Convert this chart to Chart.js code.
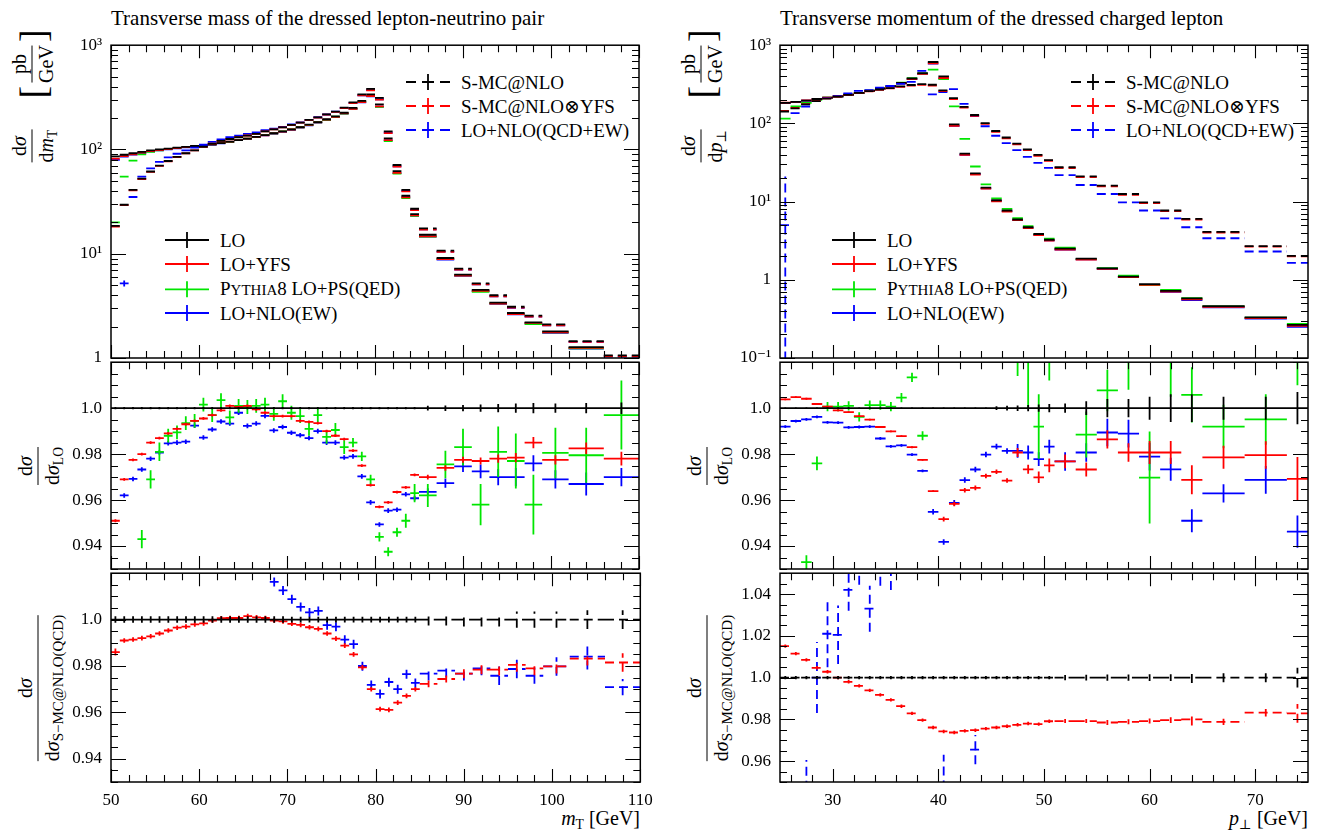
<!DOCTYPE html>
<html><head><meta charset="utf-8">
<script src="https://cdn.jsdelivr.net/npm/chart.js@4.4.1/dist/chart.umd.min.js"></script>
<style>
html,body{margin:0;padding:0;background:#fff;}
body{width:1320px;height:833px;position:relative;overflow:hidden;font-family:'Liberation Serif','DejaVu Serif',serif;color:#000;}
canvas{position:absolute;}
.title{position:absolute;font-size:21px;white-space:nowrap;line-height:1;}
.leg{position:absolute;display:flex;align-items:center;font-size:19px;white-space:nowrap;line-height:1;transform:translateY(-50%);}
.leg svg{margin-right:11px;display:block;}
.ylab{position:absolute;transform:translate(-50%,-50%) rotate(-90deg);display:flex;align-items:center;white-space:nowrap;font-size:20px;line-height:1;}
.frac{display:inline-flex;flex-direction:column;align-items:center;}
.frac .bar{align-self:stretch;border-top:1.2px solid #000;margin:3px 0 3px 0;}
.br{font-size:38px;margin:0 3px;}
.xlab{position:absolute;font-size:20px;white-space:nowrap;line-height:1;}
.sc{font-variant:small-caps;font-size:1.12em;}
sub{font-size:68%;vertical-align:-0.3em;line-height:0;}
.small{font-size:15px;}
</style></head><body>

<div class="title" style="left:111px;top:8px">Transverse mass of the dressed lepton-neutrino pair</div>
<div class="title" style="left:780px;top:8px">Transverse momentum of the dressed charged lepton</div>

<div class="ylab" style="left:32px;top:64px"><span class="br">[</span><span class="frac"><span>pb</span><span class="bar"></span><span>GeV</span></span><span class="br">]</span></div>
<div class="ylab" style="left:32px;top:146px"><span class="frac"><span>d<i>σ</i></span><span class="bar"></span><span>d<i>m</i><sub>T</sub></span></span></div>
<div class="ylab" style="left:38px;top:466px"><span class="frac"><span>d<i>σ</i></span><span class="bar"></span><span>d<i>σ</i><sub>LO</sub></span></span></div>
<div class="ylab" style="left:38px;top:688px"><span class="frac"><span>d<i>σ</i></span><span class="bar"></span><span>d<i>σ</i><sub class="small">S−MC@NLO(QCD)</sub></span></span></div>

<div class="ylab" style="left:701px;top:64px"><span class="br">[</span><span class="frac"><span>pb</span><span class="bar"></span><span>GeV</span></span><span class="br">]</span></div>
<div class="ylab" style="left:701px;top:146px"><span class="frac"><span>d<i>σ</i></span><span class="bar"></span><span>d<i>p</i><sub>⊥</sub></span></span></div>
<div class="ylab" style="left:707px;top:466px"><span class="frac"><span>d<i>σ</i></span><span class="bar"></span><span>d<i>σ</i><sub>LO</sub></span></span></div>
<div class="ylab" style="left:707px;top:688px"><span class="frac"><span>d<i>σ</i></span><span class="bar"></span><span>d<i>σ</i><sub class="small">S−MC@NLO(QCD)</sub></span></span></div>

<div class="xlab" style="right:680px;top:808px"><i>m</i><sub>T</sub> [GeV]</div>
<div class="xlab" style="right:12px;top:808px"><i>p</i><sub>⊥</sub> [GeV]</div>

<div id="legends"></div>

<script>
// ===================== DATA: transverse mass m_T (left column) =====================
const mtEdges = [50,51,52,53,54,55,56,57,58,59,60,61,62,63,64,65,66,67,68,69,70,71,72,73,74,75,76,77,78,79,80,81,82,83,84,85,87,89,91,93,95,97,99,102,106,110];
const mtXTicks = [50,60,70,80,90,100,110];
const mtYTicks = [1,10,100,1000];
const mtYLabels = ['1','10¹','10²','10³'];

// top panel: dsigma/dmT [pb/GeV]
const mtLO       = [86,89,92,95,98,100,102,104,106,108, 110,112,115,119,123,127,132,137,143,149, 156,164,173,183,195,208,225,250,292,337, 271,128,62,36,24, 15.2,9.1,6.3,4.5,3.4,2.7,2.2,1.8,1.27,0.93];
const mtLOYFS    = [81.8,86.2,89.9,93.1,96.5,98.7,100.9,103.1,105.3,107.4, 109.5,111.7,114.9,119.1,123.1,127.1,131.9,136.7,142.5,148.5, 155.5,163.1,172,181.8,193.1,205.5,222,245.4,284.7,325.7, 259.3,122.8,59.7,34.8,23.3, 14.7,8.86,6.16,4.40,3.33,2.64,2.17,1.76,1.25,0.91];
const mtPY8      = [20,55,78,89.6,95,98.1,100.8,102.9,105.3,107.4, 110.2,111.7,115.4,118.5,123.1,127.1,132.1,137.2,142.6,149.4, 155.7,163.4,171.4,182.5,192.6,206,221.2,246.3,285.9,326.6, 255.8,120,58.7,34.2,23.1, 14.6,8.88,6.19,4.31,3.34,2.64,2.11,1.76,1.24,0.93];
const mtLONLOEW  = [79.6,85.6,89.2,92.5,95.8,98.1,100.4,102.4,104.5,107.2, 108.6,111,114.3,118.2,122.8,126,131.1,136.5,141.6,147.8, 154.3,162.1,170.8,181.2,192.1,204.9,220.2,244.8,283.3,323.2, 257.3,122.3,59.3,34.7,23.1, 14.6,8.8,6.14,4.38,3.30,2.62,2.15,1.74,1.23,0.90];
const mtSMC      = [18.5,29.5,41,52.5,61.5,70,77.5,85,92,98, 106,114,121,126,131,136,141,149,156,163, 172,181,192,203,217,231,252,283,337,381, 313,149,71,41,27, 17.5,10.7,7.2,5.2,4.0,3.1,2.55,2.1,1.45,1.06];
const mtSMCYFS   = [18.2,29.2,40.6,52.1,61.1,69.6,77.1,84.7,91.7,97.8, 105.8,114,121.1,126.1,131.1,136.2,141.1,149.1,155.9,162.9, 171.7,180.6,191.4,202.2,215.7,229.1,249.2,278.8,330,369.6, 300.9,143.2,68.5,39.7,26.2, 17.0,10.4,7.03,5.09,3.91,3.04,2.50,2.06,1.43,1.04];
const mtNLOQCDEW = [0.5,5.2,35,55,66,76,84,91,98,104, 111,118,125,131,136,141,146,153,158.5,165, 173.5,182,192.6,203.8,216.5,230.3,249.8,280,330.3,370.3, 303,145,68.9,40,26.3, 17.1,10.46,7.03,5.09,3.90,3.03,2.49,2.06,1.43,1.03];
const mtTopErrQCDEW = [0,0.35,0,0,0, 0,0,0,0,0, 0,0,0,0,0, 0,0,0,0,0, 0,0,0,0,0, 0,0,0,0,0, 0,0,0,0,0, 0,0,0,0,0, 0,0,0,0,0];

// middle panel: ratio to LO
const mtRatioRef = [1,1,1,1,1, 1,1,1,1,1, 1,1,1,1,1, 1,1,1,1,1, 1,1,1,1,1, 1,1,1,1,1, 1,1,1,1,1, 1,1,1,1,1, 1,1,1,1,1];
const mtErrLO    = [0.0005,0.0005,0.0005,0.0005,0.0005, 0.0005,0.0005,0.0005,0.0005,0.0005, 0.0005,0.0005,0.0005,0.0005,0.0005, 0.0005,0.0005,0.0005,0.0005,0.0005, 0.0005,0.0005,0.0005,0.0005,0.0005, 0.0005,0.0005,0.0005,0.0005,0.0005, 0.0005,0.0005,0.0005,0.0005,0.0005, 0.001,0.0012,0.0014,0.0016,0.0018,0.002,0.0022,0.002,0.0022,0.0025];
const mtRatioYFS = [0.951,0.969,0.9775,0.980,0.985, 0.987,0.989,0.991,0.993,0.9945, 0.9955,0.997,0.999,1.001,1.0005, 1.001,0.9995,0.998,0.9965,0.9965, 0.9965,0.9945,0.994,0.9935,0.990, 0.988,0.9865,0.9815,0.975,0.9665, 0.957,0.959,0.9635,0.9655,0.971, 0.970,0.974,0.9775,0.977,0.978,0.9785,0.985,0.9775,0.9825,0.978];
const mtErrYFS   = [0.0006,0.0006,0.0006,0.0006,0.0006, 0.0006,0.0006,0.0006,0.0006,0.0006, 0.0006,0.0006,0.0006,0.0006,0.0006, 0.0006,0.0006,0.0006,0.0006,0.0006, 0.0006,0.0006,0.0006,0.0006,0.0006, 0.0006,0.0006,0.0006,0.0006,0.0006, 0.0006,0.0006,0.0006,0.0006,0.0006, 0.001,0.0012,0.0013,0.0015,0.0018,0.002,0.0025,0.002,0.0025,0.003];
const mtRatioPY8 = [0.233,0.618,0.848,0.943,0.969, 0.981,0.988,0.9895,0.9935,0.9945, 1.0015,0.997,1.0035,0.996,1.001, 1.0005,1.001,1.0015,0.9975,1.003, 0.998,0.9965,0.991,0.997,0.9875, 0.9905,0.983,0.985,0.979,0.969, 0.944,0.9375,0.946,0.951,0.963, 0.962,0.9755,0.983,0.958,0.981,0.977,0.958,0.9805,0.9795,0.997];
const mtErrPY8   = [0.01,0.006,0.005,0.004,0.004, 0.004,0.003,0.003,0.003,0.003, 0.003,0.003,0.003,0.003,0.003, 0.003,0.003,0.003,0.003,0.003, 0.003,0.003,0.003,0.003,0.003, 0.003,0.003,0.002,0.002,0.002, 0.002,0.002,0.002,0.003,0.004, 0.005,0.006,0.008,0.009,0.011,0.012,0.013,0.011,0.012,0.015];
const mtRatioEW  = [0.925,0.962,0.9692,0.9733,0.978, 0.9807,0.9847,0.985,0.9854,0.9924, 0.9872,0.9907,0.9942,0.9933,0.998, 0.9923,0.9933,0.9966,0.9903,0.9918, 0.9893,0.9882,0.987,0.990,0.985, 0.985,0.9785,0.979,0.9703,0.959, 0.9494,0.9554,0.9558,0.9625,0.9608, 0.9636,0.9674,0.9747,0.9725,0.970,0.970,0.976,0.969,0.967,0.970];
const mtErrEW    = [0.001,0.001,0.001,0.001,0.001, 0.001,0.001,0.001,0.001,0.001, 0.001,0.001,0.001,0.001,0.001, 0.001,0.001,0.001,0.001,0.001, 0.001,0.001,0.001,0.001,0.001, 0.001,0.001,0.001,0.001,0.001, 0.001,0.001,0.001,0.001,0.001, 0.0015,0.002,0.0025,0.003,0.0035,0.004,0.0035,0.004,0.005,0.004];

// bottom panel: ratio to S-MC@NLO(QCD)
const mtRatio2Ref  = [1,1,1,1,1, 1,1,1,1,1, 1,1,1,1,1, 1,1,1,1,1, 1,1,1,1,1, 1,1,1,1,1, 1,1,1,1,1, 1,1,1,1,1, 1,1,1,1,1];
const mtErr2SMC    = [0.0014,0.0014,0.0014,0.0014,0.0014, 0.0014,0.0014,0.0014,0.0014,0.0014, 0.0014,0.0014,0.0014,0.0014,0.0014, 0.0014,0.0014,0.0014,0.0014,0.0014, 0.0012,0.0012,0.0012,0.0012,0.0012, 0.0012,0.0012,0.0012,0.0012,0.0012, 0.0012,0.0012,0.0012,0.0012,0.0012, 0.0025,0.0025,0.003,0.003,0.003,0.0035,0.0035,0.0035,0.004,0.004];
const mtRatio2YFS  = [0.986,0.991,0.9914,0.992,0.9928, 0.994,0.9953,0.9965,0.997,0.9979, 0.9984,0.9996,1.0006,1.0007,1.0007, 1.0015,1.001,1.0007,0.9996,0.9992, 0.9982,0.9977,0.9967,0.996,0.994, 0.9918,0.9888,0.985,0.9794,0.970, 0.9614,0.9611,0.9642,0.9671,0.970, 0.9723,0.9744,0.9767,0.9784,0.9784,0.9805,0.979,0.9798,0.9832,0.9815];
const mtErr2YFS    = [0.0015,0.001,0.001,0.001,0.001, 0.001,0.001,0.001,0.001,0.001, 0.001,0.001,0.001,0.001,0.001, 0.001,0.001,0.001,0.001,0.001, 0.001,0.001,0.001,0.001,0.001, 0.001,0.001,0.001,0.001,0.001, 0.001,0.001,0.001,0.001,0.001, 0.0015,0.0015,0.002,0.002,0.0025,0.003,0.003,0.003,0.003,0.004];
const mtRatio2QCDEW= [null,0.176,0.854,1.048,1.073, 1.086,1.084,1.07,1.065,1.061, 1.047,1.035,1.033,1.04,1.038, 1.037,1.035,1.027,1.0163,1.0126, 1.0088,1.0055,1.0031,1.0038,0.9976, 0.997,0.9914,0.9894,0.980,0.9719, 0.968,0.9731,0.970,0.9765,0.9727, 0.9767,0.978,0.9767,0.979,0.9758,0.9787,0.9758,0.9798,0.984,0.9709];
const mtErr2QCDEW  = [0,0.05,0.01,0.005,0.005, 0.003,0.003,0.003,0.003,0.003, 0.003,0.003,0.003,0.003,0.003, 0.003,0.003,0.003,0.002,0.002, 0.002,0.002,0.002,0.002,0.002, 0.002,0.002,0.002,0.002,0.002, 0.002,0.002,0.002,0.002,0.002, 0.003,0.003,0.003,0.003,0.004,0.004,0.0035,0.004,0.0055,0.0035];

// ===================== DATA: lepton transverse momentum p_perp (right column) =====================
const ptEdges = [25,26,27,28,29,30,31,32,33,34,35,36,37,38,39,40,41,42,43,44,45,46,47,48,49,50,51,53,55,57,59,61,63,65,69,73,75];
const ptXTicks = [30,40,50,60,70];
const ptYTicks = [0.1,1,10,100,1000];
const ptYLabels = ['10⁻¹','1','10¹','10²','10³'];

const ptLO       = [183,188,196,205,213,222,233,246,262,280, 300,330,375,440,610,400,97,41,23,15.1, 10.4,7.7,5.9,4.7,3.85,3.25, 2.5,1.86,1.40,1.10,0.88,0.72,0.58,0.46,0.33,0.265];
const ptLOYFS    = [183.7,188.9,196.8,205.4,213.1,221.8,232.6,245.1,260.7,277.7, 297,326,368.6,430.1,588,380.7,93,39.5,22.2,14.65, 10.11,7.46,5.79,4.57,3.73,3.17, 2.44,1.81,1.38,1.08,0.863,0.706,0.562,0.45,0.323,0.257];
const ptPY8      = [115,165,183,200,213.1,222.2,233.2,245.1,262.3,280.4, 300.2,331.5,380,434.7,488,368,165,63.5,28.1,16.6, 11.0,8.09,6.14,4.84,3.82,3.35, 2.58,1.84,1.41,1.13,0.853,0.742,0.583,0.456,0.328,0.273];
const ptLONLOEW  = [181.5,187,195,204.2,211.7,220.6,231,244,259.9,276.3, 295,324.7,367.4,428,582.5,376.7,93,39.7,22.4,14.8, 10.23,7.56,5.79,4.61,3.76,3.20, 2.44,1.82,1.385,1.088,0.861,0.701,0.552,0.443,0.32,0.251];
const ptSMC      = [142,156,175,193,208,220,232,246,258,270, 283,298,310,318,312,265,210,163,128,101, 80,66,55,46.5,39.5,34, 27.5,21,16,12.5,9.8,7.7,6.0,4.1,2.7,2.02];
const ptSMCYFS   = [144.1,157.8,176.5,193.9,208.6,220,231.5,245,256.4,267.8, 280,293.9,304.7,311.5,304.5,258.2,204.5,158.8,124.8,98.5, 78.1,64.5,53.8,45.5,38.6,33.3, 26.9,20.6,15.7,12.2,9.6,7.54,5.88,4.01,2.65,1.99];
const ptNLOQCDEW = [5,135,164.5,193,212,225,242,261,267,286, 301,320,340,470,235,251,275,178,123.6,92, 69.5,56,45.4,37.4,31.3,27, 21.8,16.3,12.5,9.8,7.7,6.1,4.7,3.4,2.3,1.65];
const ptTopErrQCDEW = [16,0,0,0,0, 0,0,0,0,0, 0,0,0,0,0, 0,0,0,0,0, 0,0,0,0,0, 0, 0,0,0,0,0,0,0,0,0,0];

const ptRatioRef = [1,1,1,1,1, 1,1,1,1,1, 1,1,1,1,1, 1,1,1,1,1, 1,1,1,1,1, 1, 1,1,1,1,1,1,1,1,1,1];
const ptErrLO    = [0.0003,0.0003,0.0003,0.0003,0.0003, 0.0003,0.0003,0.0003,0.0003,0.0003, 0.0003,0.0003,0.0003,0.0003,0.0003, 0.0003,0.0003,0.0003,0.0003,0.0003, 0.0008,0.001,0.0012,0.0014,0.0016, 0.0018, 0.002,0.003,0.004,0.004,0.005,0.006,0.006,0.005,0.005,0.007];
const ptRatioYFS = [1.0038,1.0048,1.0041,1.0018,1.0007, 0.999,0.9983,0.9965,0.995,0.9918, 0.9899,0.9878,0.983,0.9775,0.9639, 0.9517,0.9583,0.9643,0.9653,0.9705, 0.9723,0.9685,0.9807,0.9734,0.9699, 0.9751, 0.9768,0.9733,0.9864,0.9807,0.9807,0.9807,0.9688,0.9786,0.9796,0.9692];
const ptErrYFS   = [0.0004,0.0004,0.0004,0.0004,0.0004, 0.0004,0.0004,0.0004,0.0004,0.0004, 0.0004,0.0004,0.0004,0.0004,0.0004, 0.001,0.001,0.001,0.001,0.001, 0.001,0.001,0.002,0.002,0.0025, 0.003, 0.003,0.003,0.004,0.004,0.005,0.005,0.0063,0.005,0.006,0.0095];
const ptRatioPY8 = [0.63,0.88,0.933,0.976,1.0007, 1.0007,1.001,0.9962,1.0013,1.0013, 1.0007,1.0046,1.0134,0.988,0.80, 0.92,1.70,1.55,1.22,1.10, 1.06,1.05,1.04,1.035,0.992, 1.03, 1.03,0.9885,1.0077,1.03,0.9698,1.03,1.0058,0.992,0.9951,1.03];
const ptErrPY8   = [0.01,0.005,0.003,0.003,0.002, 0.002,0.002,0.002,0.002,0.002, 0.002,0.002,0.002,0.002,0.002, 0.003,0.004,0.006,0.01,0.015, 0.02,0.02,0.026,0.035,0.014, 0.018, 0.01,0.01,0.009,0.022,0.02,0.025,0.012,0.0095,0.011,0.02];
const ptRatioEW  = [0.992,0.9944,0.9951,0.9962,0.9938, 0.9937,0.9916,0.9918,0.992,0.9868, 0.9834,0.9838,0.9798,0.9727,0.9549, 0.9418,0.9588,0.9687,0.9733,0.9798, 0.9833,0.9814,0.9814,0.9807,0.9778, 0.9833, 0.9768,0.9807,0.9894,0.9889,0.9789,0.9734,0.951,0.9629,0.9688,0.9463];
const ptErrEW    = [0.0006,0.0006,0.0006,0.0006,0.0006, 0.0006,0.0006,0.0006,0.0006,0.0006, 0.0006,0.0006,0.0006,0.0006,0.0012, 0.0012,0.0012,0.0012,0.0012,0.0012, 0.0012,0.0012,0.003,0.003,0.003, 0.003, 0.004,0.004,0.006,0.006,0.006,0.005,0.005,0.004,0.006,0.007];

const ptRatio2Ref  = [1,1,1,1,1, 1,1,1,1,1, 1,1,1,1,1, 1,1,1,1,1, 1,1,1,1,1, 1, 1,1,1,1,1,1,1,1,1,1];
const ptErr2SMC    = [0.0008,0.0008,0.0008,0.0008,0.0008, 0.0008,0.0008,0.0008,0.0008,0.0008, 0.0008,0.0008,0.0008,0.0008,0.0008, 0.0008,0.0008,0.0008,0.0008,0.0008, 0.0008,0.0008,0.0008,0.0008,0.0008, 0.0008, 0.0013,0.0014,0.0015,0.0015,0.0016,0.0016,0.0026,0.0022,0.0022,0.0047];
const ptRatio2YFS  = [1.0151,1.0115,1.0085,1.0047,1.0028, 1.0,0.998,0.996,0.9939,0.9917, 0.9893,0.9863,0.9829,0.9796,0.9761, 0.9742,0.9737,0.9745,0.9748,0.9756, 0.9761,0.9767,0.9774,0.978,0.9777, 0.9791, 0.9792,0.9792,0.9785,0.9788,0.9792,0.9796,0.98,0.9788,0.9832,0.9829];
const ptErr2YFS    = [0.0008,0.0008,0.0008,0.0008,0.0008, 0.0008,0.0008,0.0008,0.0008,0.0008, 0.0008,0.0008,0.0008,0.0008,0.0008, 0.0008,0.0008,0.0008,0.0008,0.0008, 0.0008,0.0008,0.0008,0.0008,0.0008, 0.0008, 0.001,0.001,0.0012,0.0012,0.0012,0.0014,0.003,0.0015,0.0018,0.0045];
const ptRatio2QCDEW= [null,0.865,0.94,1.0,1.021, 1.0205,1.042,1.06,1.033,1.058, 1.065,1.074,1.097,1.48,0.753, 0.948,1.31,1.09,0.9655,0.91, 0.87,0.85,0.825,0.804,0.79, 0.79, 0.79,0.78,0.78,0.78,0.785,0.79,0.78,0.83,0.85,0.82];
const ptErr2QCDEW  = [0,0.02,0.0205,0.017,0.016, 0.014,0.01,0.0155,0.011,0.014, 0.023,0.01,0.01,0.01,0.01, 0.015,0.01,0.01,0.007,0.005, 0.005,0.005,0.005,0.005,0.005, 0.005, 0.005,0.005,0.005,0.005,0.005,0.005,0.005,0.005,0.005,0.005];

const ratioTicksMain = [0.94,0.96,0.98,1.0];
const ratioLabelsMain = ['0.94','0.96','0.98','1.0'];
const ratioTicksPt2 = [0.96,0.98,1.0,1.02,1.04];
const ratioLabelsPt2 = ['0.96','0.98','1.0','1.02','1.04'];

// ===================== STYLE / RENDERING =====================
const K = '#000000', R = '#ff0000', G = '#00e600', B = '#0000ff';
const DASH = [9,5];
Chart.defaults.font.family = "'Liberation Serif', 'DejaVu Serif', serif";
Chart.defaults.color = '#000';

function histData(edges, vals) {
  const d = [];
  vals.forEach((v, i) => {
    if (v === null) return;
    d.push({x: edges[i], y: v}, {x: edges[i+1], y: v}, {x: edges[i+1], y: null});
  });
  return d;
}
function errData(edges, vals, errs, floor) {
  const d = [];
  vals.forEach((v, i) => {
    if (v === null || !errs || !errs[i]) return;
    const c = (edges[i] + edges[i+1]) / 2;
    d.push({x: c, y: Math.max(v - errs[i], floor)}, {x: c, y: v + errs[i]}, {x: c, y: null});
  });
  return d;
}
function datasets(edges, series, floor) {
  const out = [];
  series.forEach(s => {
    const base = {showLine: true, pointRadius: 0, pointHoverRadius: 0, borderColor: s.c, backgroundColor: s.c,
      borderWidth: 1.8, spanGaps: false, clip: 0, borderDash: s.dash ? DASH : [], borderCapStyle: 'butt'};
    out.push(Object.assign({}, base, {data: histData(edges, s.v)}));
    if (s.e) out.push(Object.assign({}, base, {data: errData(edges, s.v, s.e, floor)}));
  });
  return out;
}

const framePlugin = {
  id: 'frame',
  afterDatasetsDraw(chart, args, o) {
    const ctx = chart.ctx, a = chart.chartArea, sx = chart.scales.x, sy = chart.scales.y;
    ctx.save();
    ctx.strokeStyle = '#000';
    ctx.lineWidth = 1.1;
    ctx.setLineDash([]);
    ctx.beginPath();
    const xt = (v, len) => { const p = Math.round(sx.getPixelForValue(v)) + 0.5; ctx.moveTo(p, a.top); ctx.lineTo(p, a.top + len); ctx.moveTo(p, a.bottom); ctx.lineTo(p, a.bottom - len); };
    const yt = (v, len) => { const p = Math.round(sy.getPixelForValue(v)) + 0.5; ctx.moveTo(a.left, p); ctx.lineTo(a.left + len, p); ctx.moveTo(a.right, p); ctx.lineTo(a.right - len, p); };
    o.xMajor.forEach(v => xt(v, 13)); o.xMinor.forEach(v => xt(v, 7));
    o.yMajor.forEach(v => yt(v, 15)); o.yMinor.forEach(v => yt(v, 7));
    ctx.stroke();
    ctx.lineWidth = 1.5;
    ctx.strokeRect(a.left, a.top, a.right - a.left, a.bottom - a.top);
    ctx.restore();
  }
};

function xMinorList(lo, hi, step, majors) { const r = []; for (let v = lo; v <= hi + 1e-9; v += step) if (!majors.includes(v)) r.push(v); return r; }
function logMinorList(decades) { const r = []; decades.forEach(d => { for (let k = 2; k <= 9; k++) r.push(d * k); }); return r; }
function ratioMinorList(kLo, kHi) { const r = []; for (let k = kLo; k <= kHi; k++) if (k % 4 !== 0) r.push(k * 0.005); return r; }
function ratioMajorList(kLo, kHi) { const r = []; for (let k = kLo; k <= kHi; k++) if (k % 4 === 0) r.push(k * 0.005); return r; }

function panel(left, top, w, h, spec) {
  const M = {l: 95, t: 15, r: 30, b: 45};
  const cv = document.createElement('canvas');
  cv.width = w + M.l + M.r; cv.height = h + M.t + M.b;
  cv.style.left = (left - M.l) + 'px'; cv.style.top = (top - M.t) + 'px';
  cv.style.width = cv.width + 'px'; cv.style.height = cv.height + 'px';
  document.body.appendChild(cv);
  const cfg = {
    type: 'scatter',
    data: {datasets: datasets(spec.edges, spec.series, spec.floor)},
    options: {
      responsive: false, animation: false, devicePixelRatio: 1, events: [],
      layout: {padding: {left: 0, right: 0, top: 0, bottom: 0}},
      plugins: {legend: {display: false}, tooltip: {enabled: false}, frame: spec.frame},
      scales: {
        x: {type: 'linear', min: spec.xr[0], max: spec.xr[1],
            grid: {display: false, drawTicks: false}, border: {display: false},
            afterBuildTicks: s => { s.ticks = spec.xTicks.map(v => ({value: v})); },
            ticks: {display: spec.xLabels, padding: 8, autoSkip: false, maxRotation: 0, font: {size: 17}, callback: v => String(v)}},
        y: {type: spec.log ? 'logarithmic' : 'linear', min: spec.yr[0], max: spec.yr[1],
            grid: {display: false, drawTicks: false}, border: {display: false},
            afterBuildTicks: s => { s.ticks = spec.yTicks.map(v => ({value: v})); },
            ticks: {padding: 9, autoSkip: false, font: {size: 17}, callback: (v, i) => spec.yLabels[i]}}
      }
    },
    plugins: [framePlugin]
  };
  const ch = new Chart(cv, cfg);
  for (let it = 0; it < 3; it++) {
    const a = ch.chartArea, p = ch.config.options.layout.padding;
    p.left += M.l - a.left; p.top += M.t - a.top;
    p.right += a.right - (M.l + w); p.bottom += a.bottom - (M.t + h);
    ch.update('none');
  }
  return ch;
}

// geometry of plot areas
const L = {x: 111, w: 528}, Rc = {x: 780, w: 528};
const TOP = {y: 41, h: 317}, MID = {y: 358, h: 211}, BOT = {y: 569, h: 213};

const mtXMinor = xMinorList(50, 110, 2, mtXTicks);
const ptXMinor = xMinorList(26, 74, 2, ptXTicks);

// ---- left column ----
panel(L.x, TOP.y, L.w, TOP.h, {
  edges: mtEdges, xr: [50, 110], yr: [1, 1000], log: true, floor: 1e-3,
  xTicks: mtXTicks, xLabels: false, yTicks: mtYTicks, yLabels: mtYLabels,
  frame: {xMajor: mtXTicks, xMinor: mtXMinor, yMajor: mtYTicks, yMinor: logMinorList([1, 10, 100])},
  series: [
    {v: mtSMC, c: K, dash: true}, {v: mtSMCYFS, c: R, dash: true}, {v: mtNLOQCDEW, e: mtTopErrQCDEW, c: B, dash: true},
    {v: mtLO, c: K}, {v: mtLOYFS, c: R}, {v: mtPY8, c: G}, {v: mtLONLOEW, c: B}
  ]
});
panel(L.x, MID.y, L.w, MID.h, {
  edges: mtEdges, xr: [50, 110], yr: [0.93, 1.02], log: false, floor: -1,
  xTicks: mtXTicks, xLabels: false, yTicks: ratioTicksMain, yLabels: ratioLabelsMain,
  frame: {xMajor: mtXTicks, xMinor: mtXMinor, yMajor: ratioMajorList(186, 204), yMinor: ratioMinorList(186, 204)},
  series: [
    {v: mtRatioRef, e: mtErrLO, c: K}, {v: mtRatioYFS, e: mtErrYFS, c: R},
    {v: mtRatioPY8, e: mtErrPY8, c: G}, {v: mtRatioEW, e: mtErrEW, c: B}
  ]
});
panel(L.x, BOT.y, L.w, BOT.h, {
  edges: mtEdges, xr: [50, 110], yr: [0.93, 1.02], log: false, floor: -1,
  xTicks: mtXTicks, xLabels: true, yTicks: ratioTicksMain, yLabels: ratioLabelsMain,
  frame: {xMajor: mtXTicks, xMinor: mtXMinor, yMajor: ratioMajorList(186, 204), yMinor: ratioMinorList(186, 204)},
  series: [
    {v: mtRatio2Ref, e: mtErr2SMC, c: K, dash: true}, {v: mtRatio2YFS, e: mtErr2YFS, c: R, dash: true},
    {v: mtRatio2QCDEW, e: mtErr2QCDEW, c: B, dash: true}
  ]
});

// ---- right column ----
panel(Rc.x, TOP.y, Rc.w, TOP.h, {
  edges: ptEdges, xr: [25, 75], yr: [0.1, 1000], log: true, floor: 1e-3,
  xTicks: ptXTicks, xLabels: false, yTicks: ptYTicks, yLabels: ptYLabels,
  frame: {xMajor: ptXTicks, xMinor: ptXMinor, yMajor: ptYTicks, yMinor: logMinorList([0.1, 1, 10, 100])},
  series: [
    {v: ptSMC, c: K, dash: true}, {v: ptSMCYFS, c: R, dash: true}, {v: ptNLOQCDEW, e: ptTopErrQCDEW, c: B, dash: true},
    {v: ptLO, c: K}, {v: ptLOYFS, c: R}, {v: ptPY8, c: G}, {v: ptLONLOEW, c: B}
  ]
});
panel(Rc.x, MID.y, Rc.w, MID.h, {
  edges: ptEdges, xr: [25, 75], yr: [0.93, 1.02], log: false, floor: -1,
  xTicks: ptXTicks, xLabels: false, yTicks: ratioTicksMain, yLabels: ratioLabelsMain,
  frame: {xMajor: ptXTicks, xMinor: ptXMinor, yMajor: ratioMajorList(186, 204), yMinor: ratioMinorList(186, 204)},
  series: [
    {v: ptRatioRef, e: ptErrLO, c: K}, {v: ptRatioYFS, e: ptErrYFS, c: R},
    {v: ptRatioPY8, e: ptErrPY8, c: G}, {v: ptRatioEW, e: ptErrEW, c: B}
  ]
});
panel(Rc.x, BOT.y, Rc.w, BOT.h, {
  edges: ptEdges, xr: [25, 75], yr: [0.95, 1.05], log: false, floor: -1,
  xTicks: ptXTicks, xLabels: true, yTicks: ratioTicksPt2, yLabels: ratioLabelsPt2,
  frame: {xMajor: ptXTicks, xMinor: ptXMinor, yMajor: ratioMajorList(190, 210), yMinor: ratioMinorList(190, 210)},
  series: [
    {v: ptRatio2Ref, e: ptErr2SMC, c: K, dash: true}, {v: ptRatio2YFS, e: ptErr2YFS, c: R, dash: true},
    {v: ptRatio2QCDEW, e: ptErr2QCDEW, c: B, dash: true}
  ]
});

// ---- legends (HTML) ----
function sample(color, dashed) {
  const h = dashed ? `<line x1="0" y1="10" x2="44" y2="10" stroke="${color}" stroke-width="1.8" stroke-dasharray="10 6 12 6 10"/>`
                   : `<line x1="0" y1="10" x2="44" y2="10" stroke="${color}" stroke-width="1.8"/>`;
  return `<svg width="44" height="20" viewBox="0 0 44 20">${h}<line x1="22" y1="2" x2="22" y2="18" stroke="${color}" stroke-width="1.8"/></svg>`;
}
const legendRows = [
  // [left, centerY, color, dashed, html]
  [406, 82, K, true, 'S-MC@NLO'], [406, 106, R, true, 'S-MC@NLO⊗YFS'], [406, 130, B, true, 'LO+NLO(QCD+EW)'],
  [165, 240, K, false, 'LO'], [165, 264, R, false, 'LO+YFS'], [165, 289, G, false, 'P<span class="sc">ythia</span>8 LO+PS(QED)'], [165, 313, B, false, 'LO+NLO(EW)'],
  [1071, 82, K, true, 'S-MC@NLO'], [1071, 106, R, true, 'S-MC@NLO⊗YFS'], [1071, 130, B, true, 'LO+NLO(QCD+EW)'],
  [832, 240, K, false, 'LO'], [832, 264, R, false, 'LO+YFS'], [832, 289, G, false, 'P<span class="sc">ythia</span>8 LO+PS(QED)'], [832, 313, B, false, 'LO+NLO(EW)']
];
const lg = document.getElementById('legends');
legendRows.forEach(r => {
  const d = document.createElement('div');
  d.className = 'leg';
  d.style.left = r[0] + 'px'; d.style.top = r[1] + 'px';
  d.innerHTML = sample(r[2], r[3]) + '<span>' + r[4] + '</span>';
  lg.appendChild(d);
});
</script>
</body></html>
